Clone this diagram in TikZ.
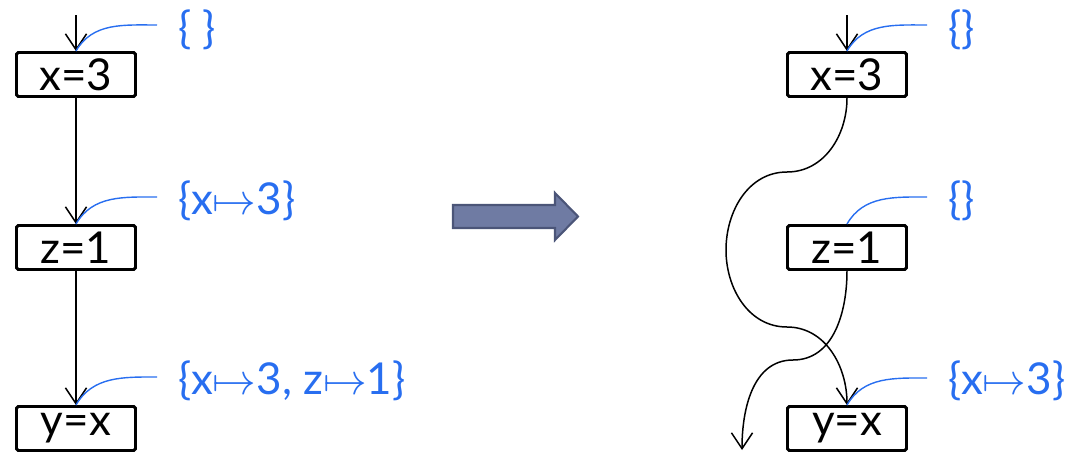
\documentclass[tikz,border=0pt]{standalone}
\usepackage{amsmath,amssymb}
\usepackage{fontspec}
\setmainfont{Lato}
\usepackage{tikz}
\usetikzlibrary{arrows.meta}
\usepackage{xcolor}
\definecolor{factblue}{RGB}{40,110,240}
\definecolor{arrowfill}{RGB}{111,123,163}
\definecolor{arrowedge}{RGB}{75,85,120}

\begin{document}
\begin{tikzpicture}[
    stmt/.style={draw, line width=1.7pt, rounded corners=1pt, minimum width=2.38cm, minimum height=0.88cm, inner sep=0pt, font=\fontsize{25}{30}\selectfont},
    flow/.style={line width=0.85pt, -{Straight Barb[length=9pt,width=12pt]}},
    note/.style={factblue, line width=0.8pt},
    fact/.style={factblue, anchor=west, inner sep=0pt, font=\fontsize{25}{30}\selectfont}
  ]
    \useasboundingbox (0,0) rectangle (21.32,-9.12);

    % Original program (left)
    \node[stmt] (a1) at (1.52,-1.49) {x=3};
    \node[stmt] (a2) at (1.52,-4.95) {z=1};
    \node[stmt] (a3) at (1.52,-8.57) {y=x};
    \coordinate (a0) at (1.52,-0.30);

    \draw[flow] (a0) -- (a1.north);
    \draw[flow] (a1.south) -- (a2.north);
    \draw[flow] (a2.south) -- (a3.north);

    % Facts at each edge (left)
    \node[fact] (fa1) at (3.56,-0.60) {\{ \}};
    \node[fact] (fa2) at (3.56,-4.02) {\{x$\mapsto$3\}};
    \node[fact] (fa3) at (3.56,-7.62) {\{x$\mapsto$3, z$\mapsto$1\}};
    \coordinate (na1) at (3.14,-0.50);
    \coordinate (na2) at (3.14,-3.94);
    \coordinate (na3) at (3.14,-7.54);
    \draw[note] (na1) to[out=180, in=60] (a1.north);
    \draw[note] (na2) to[out=180, in=60] (a2.north);
    \draw[note] (na3) to[out=180, in=60] (a3.north);

    % Transformation arrow
    \draw[arrowedge, line width=1.2pt, fill=arrowfill]
      (9.06,-4.10) -- (11.10,-4.10) -- (11.10,-3.86) -- (11.56,-4.33)
      -- (11.10,-4.80) -- (11.10,-4.56) -- (9.06,-4.56) -- cycle;

    % Reordered program (right)
    \node[stmt] (b1) at (16.94,-1.49) {x=3};
    \node[stmt] (b2) at (16.94,-4.95) {z=1};
    \node[stmt] (b3) at (16.94,-8.57) {y=x};
    \coordinate (b0) at (16.94,-0.30);
    \coordinate (b4) at (14.84,-9.00);

    \draw[flow] (b0) -- (b1.north);
    \draw[flow] (b1.south) to[out=-90, in=0] (15.74,-3.44)
      to[out=180, in=90] (14.52,-5.00)
      to[out=-90, in=180] (15.74,-6.54)
      to[out=0, in=90] (b3.north);
    \draw[flow] (b2.south) to[out=-90, in=0] (15.86,-7.20)
      to[out=180, in=90] (b4);

    % Facts at each edge (right)
    \node[fact] (fb1) at (18.96,-0.60) {\{\}};
    \node[fact] (fb2) at (18.96,-4.02) {\{\}};
    \node[fact] (fb3) at (18.96,-7.62) {\{x$\mapsto$3\}};
    \coordinate (nb1) at (18.54,-0.50);
    \coordinate (nb2) at (18.54,-3.94);
    \coordinate (nb3) at (18.54,-7.56);
    \draw[note] (nb1) to[out=180, in=60] (b1.north);
    \draw[note] (nb2) to[out=180, in=60] (b2.north);
    \draw[note] (nb3) to[out=180, in=60] (b3.north);
\end{tikzpicture}
\end{document}
